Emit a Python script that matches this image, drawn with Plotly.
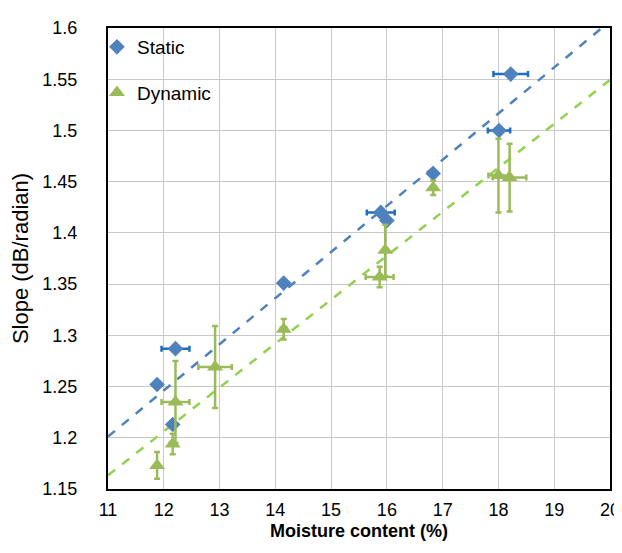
import numpy as np
import plotly.graph_objects as go

# Static measurements
static_x = [11.88, 12.21, 12.16, 14.15, 15.89, 16.00, 16.83, 18.01, 18.22]
static_y = [1.252, 1.287, 1.213, 1.351, 1.420, 1.412, 1.458, 1.500, 1.555]
static_xerr = [0.05, 0.25, 0.05, 0.05, 0.25, 0.05, 0.03, 0.20, 0.31]

# Dynamic measurements
dynamic_x = [11.88, 12.16, 12.21, 12.92, 14.15, 15.97, 15.87, 16.83, 18.00, 18.20]
dynamic_y = [1.173, 1.194, 1.235, 1.269, 1.306, 1.383, 1.357, 1.444, 1.456, 1.454]
dynamic_xerr = [0.03, 0.05, 0.25, 0.30, 0.05, 0.03, 0.25, 0.03, 0.18, 0.30]
dynamic_yerr = [0.013, 0.010, 0.040, 0.040, 0.010, 0.025, 0.010, 0.007, 0.036, 0.033]

x_range = [11, 20]
y_range = [1.15, 1.6]

BLUE = "#4F81BD"
BLUE_ERR = "#1F6FC0"
GREEN = "#9BBB59"
GREEN_LINE = "#92D050"
FONT = "Liberation Sans, Arial, sans-serif"

fig = go.Figure()

# trend lines (linear fits of the data)
xs = np.array(x_range, dtype=float)
ps = np.polyfit(static_x, static_y, 1)
pd_ = np.polyfit(dynamic_x, dynamic_y, 1)
fig.add_trace(go.Scatter(x=xs, y=np.polyval(ps, xs), mode="lines",
                         line=dict(color=BLUE, width=2.5, dash="dash"),
                         showlegend=False, hoverinfo="skip"))
fig.add_trace(go.Scatter(x=xs, y=np.polyval(pd_, xs), mode="lines",
                         line=dict(color=GREEN_LINE, width=2.5, dash="dash"),
                         showlegend=False, hoverinfo="skip"))

fig.add_trace(go.Scatter(
    x=static_x, y=static_y, mode="markers", name="Static", legendgroup="s",
    marker=dict(symbol="diamond", size=12, color=BLUE),
    error_x=dict(type="data", array=static_xerr, color=BLUE_ERR, thickness=2.5, width=3),
))
fig.add_trace(go.Scatter(
    x=dynamic_x, y=dynamic_y, mode="markers", name="Dynamic", legendgroup="d",
    marker=dict(symbol="triangle-up", size=14, color=GREEN),
    error_x=dict(type="data", array=dynamic_xerr, color=GREEN, thickness=2.5, width=3),
    error_y=dict(type="data", array=dynamic_yerr, color=GREEN, thickness=2.5, width=3),
))

axis_common = dict(
    showline=True, linecolor="black", linewidth=2, mirror=True,
    showgrid=True, gridcolor="#c8c8c8", gridwidth=1, zeroline=False,
    ticks="", tickfont=dict(size=18, color="black", family=FONT),
)
fig.update_xaxes(range=x_range, dtick=1, tick0=11, ticklabelstandoff=3,
                 title=dict(text="<b>Moisture content (%)</b>",
                            font=dict(size=18, color="black", family=FONT), standoff=6),
                 **axis_common)
fig.update_yaxes(range=y_range, dtick=0.05, tick0=1.15, ticklabelstandoff=25,
                 title=dict(text="Slope (dB/radian)",
                            font=dict(size=22, color="black", family=FONT), standoff=8),
                 **axis_common)

fig.update_layout(
    width=622, height=553,
    margin=dict(l=100, r=10, t=17, b=72),
    paper_bgcolor="white", plot_bgcolor="white",
    font=dict(family=FONT, color="black"),
    showlegend=True,
    legend=dict(x=-0.022, y=1.0, xanchor="left", yanchor="top",
                bgcolor="rgba(0,0,0,0)", font=dict(size=19, color="black", family=FONT),
                tracegroupgap=18),
)

fig.write_html("out.html")
